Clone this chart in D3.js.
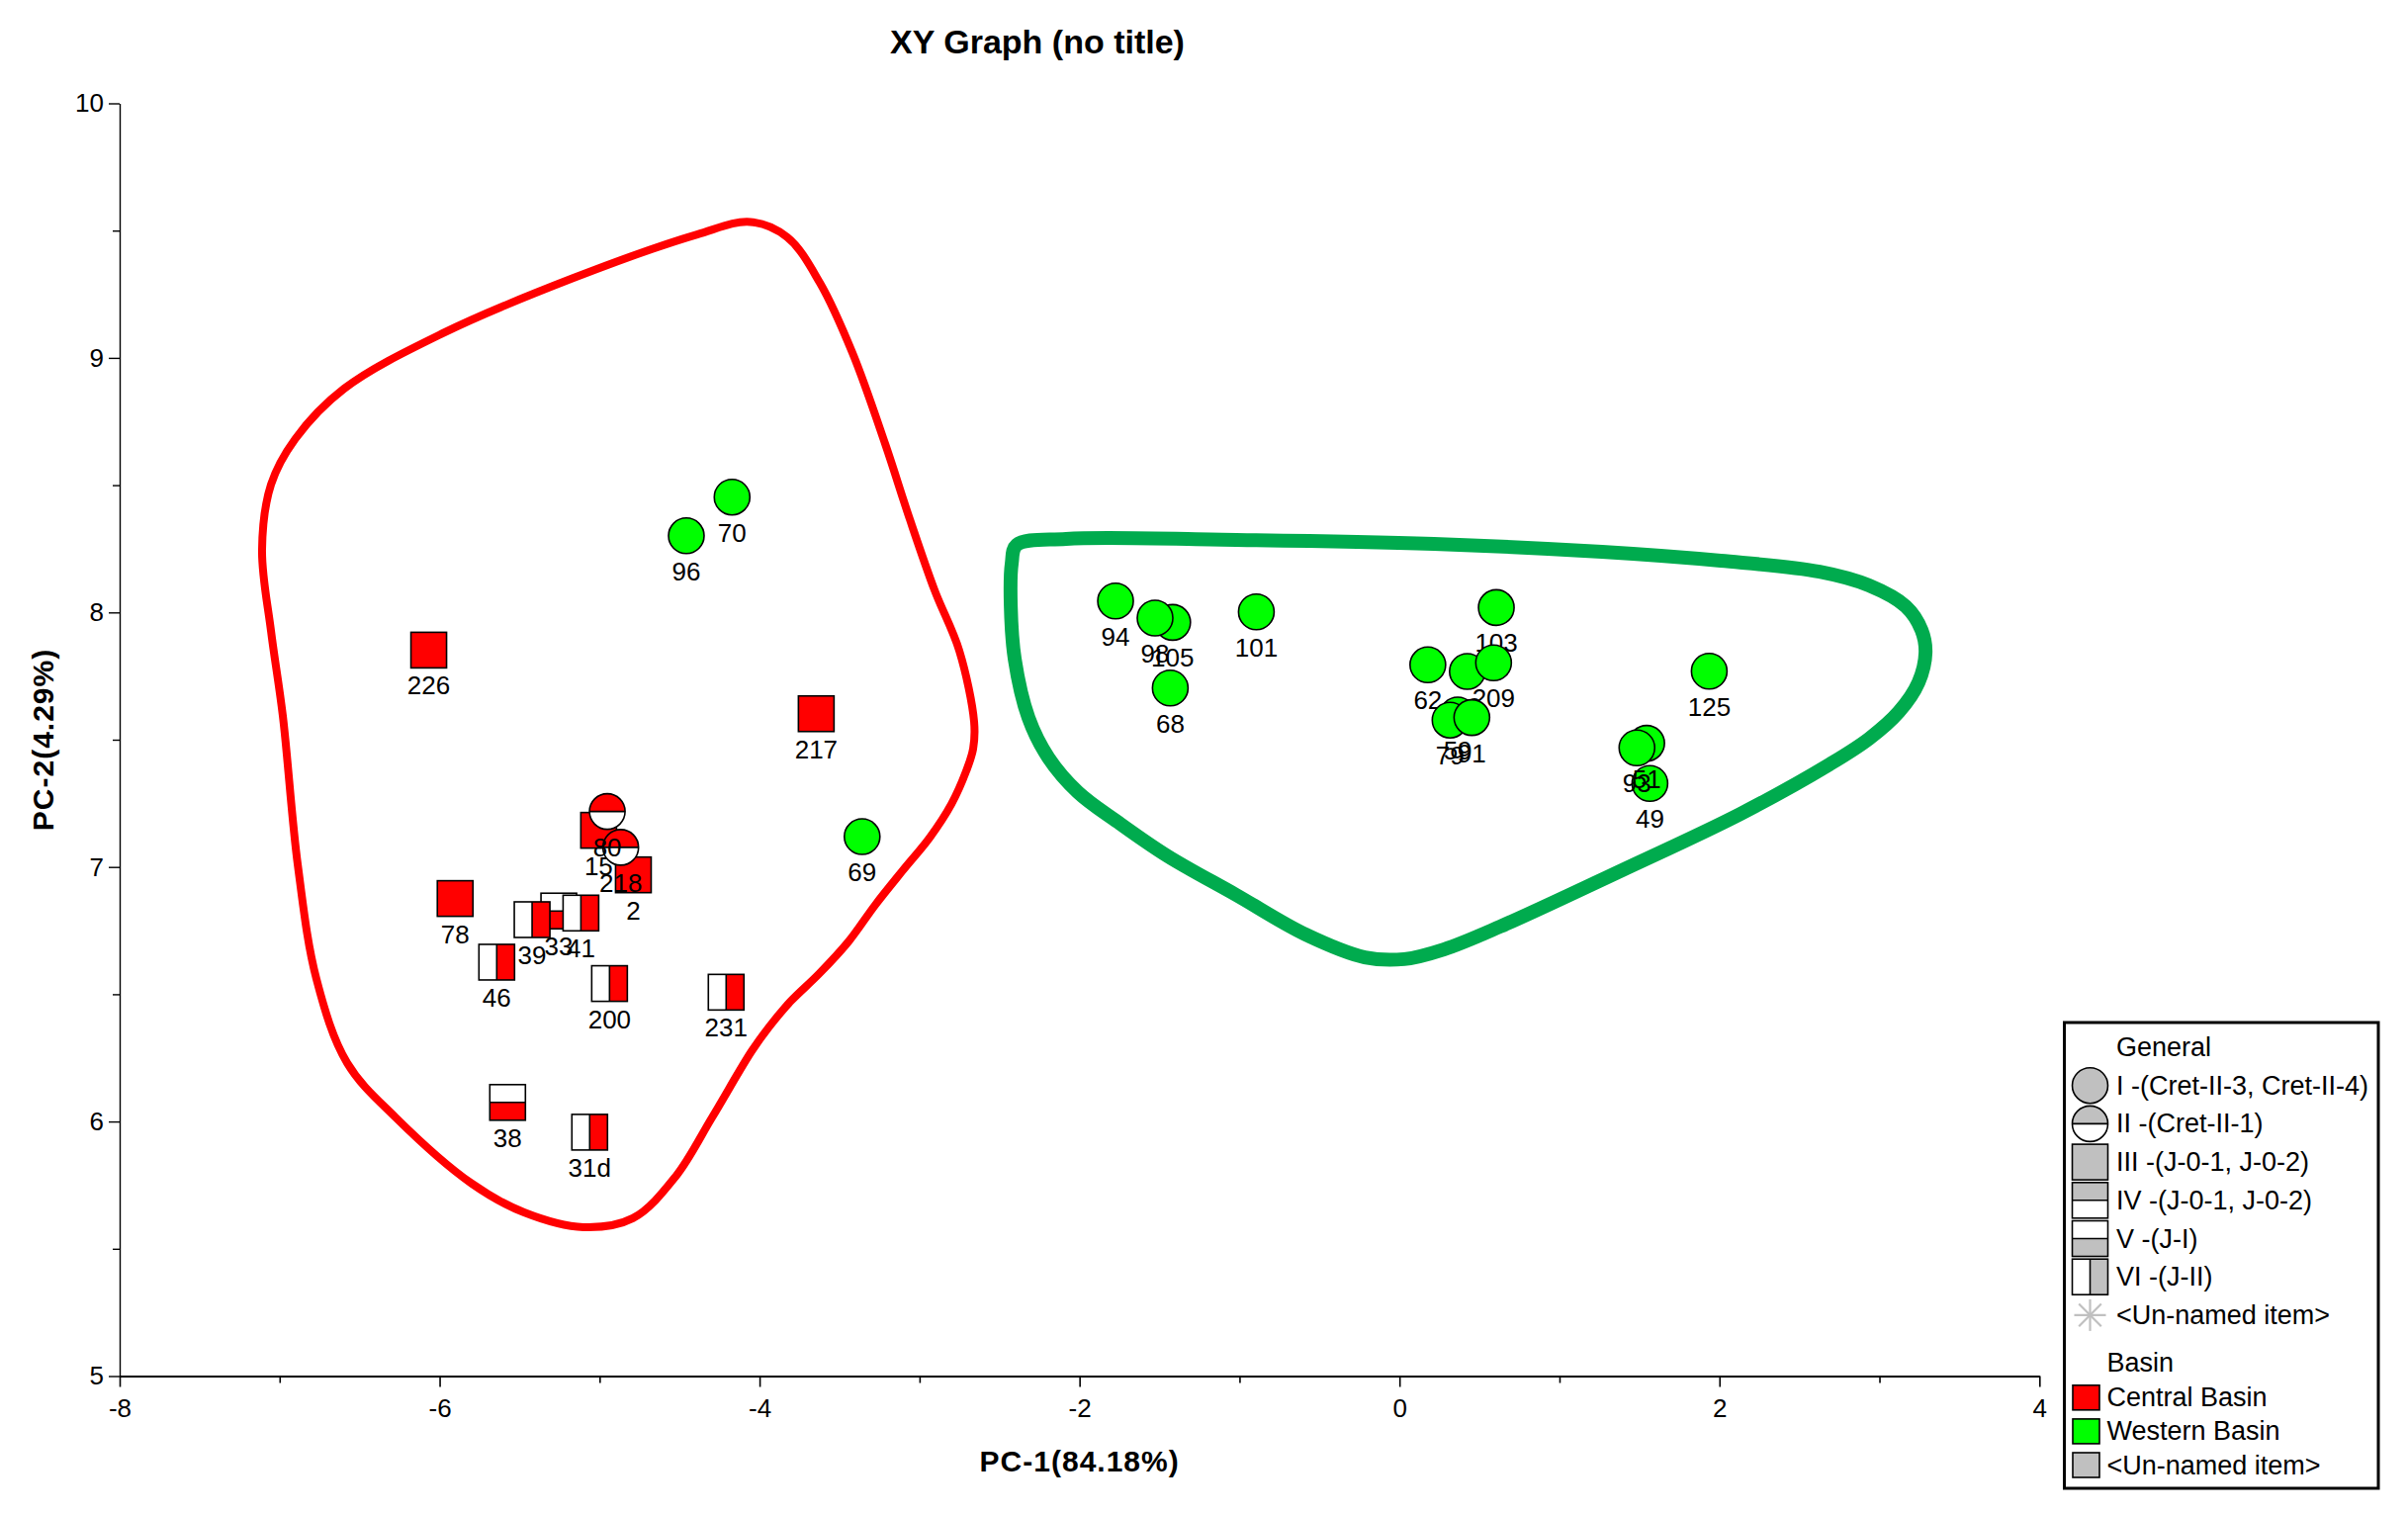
<!DOCTYPE html>
<html>
<head>
<meta charset="utf-8">
<script src="https://cdn.jsdelivr.net/npm/d3@7"></script>
<style>
  body { margin: 0; background: #fff; }
  svg { display: block; font-family: "Liberation Sans", Arial, sans-serif; }
</style>
</head>
<body>
<div id="chart"></div>
<script>
// sample points, in drawing order (later ones sit on top)
const sampleIds = ["226", "217", "78", "15", "2", "218", "80", "33", "39", "41", "46", "200", "231", "38", "31d",
  "70", "96", "69", "94", "105", "98", "68", "101", "103", "62", "30", "209", "59", "79", "91", "125", "49", "51", "93"];
const pc1 = [-6.068, -3.646, -5.903, -5.006, -4.789, -4.868, -4.952, -5.255, -5.422, -5.117, -5.643, -4.938, -4.209, -5.575, -5.062,
  -4.172, -4.458, -3.359, -1.775, -1.418, -1.528, -1.433, -0.895, 0.605, 0.177, 0.424, 0.588, 0.364, 0.316, 0.452, 1.936, 1.565, 1.545, 1.484];
const pc2 = [7.852, 7.602, 6.876, 7.144, 6.969, 7.077, 7.218, 6.827, 6.793, 6.819, 6.626, 6.542, 6.508, 6.075, 5.958,
  8.453, 8.301, 7.119, 8.045, 7.961, 7.978, 7.703, 8.002, 8.019, 7.794, 7.768, 7.802, 7.597, 7.577, 7.587, 7.769, 7.328, 7.486, 7.468];
const generalType = ["III", "III", "III", "III", "III", "II", "II", "V", "VI", "VI", "VI", "VI", "VI", "V", "VI",
  "I", "I", "I", "I", "I", "I", "I", "I", "I", "I", "I", "I", "I", "I", "I", "I", "I", "I", "I"];
const basin = ["Central Basin", "Central Basin", "Central Basin", "Central Basin", "Central Basin", "Central Basin", "Central Basin",
  "Central Basin", "Central Basin", "Central Basin", "Central Basin", "Central Basin", "Central Basin", "Central Basin", "Central Basin",
  "Western Basin", "Western Basin", "Western Basin", "Western Basin", "Western Basin", "Western Basin", "Western Basin", "Western Basin",
  "Western Basin", "Western Basin", "Western Basin", "Western Basin", "Western Basin", "Western Basin", "Western Basin", "Western Basin",
  "Western Basin", "Western Basin", "Western Basin"];

// hand drawn group outlines, in data units
const redHull = [[-4.058, 9.534], [-3.827, 9.474], [-3.623, 9.295], [-3.419, 9.019], [-3.215, 8.662], [-3.061, 8.366],
  [-2.906, 8.087], [-2.752, 7.850], [-2.659, 7.570], [-2.665, 7.465], [-2.709, 7.376], [-2.801, 7.247], [-2.937, 7.115],
  [-3.104, 6.987], [-3.277, 6.851], [-3.444, 6.707], [-3.630, 6.579], [-3.803, 6.474], [-3.939, 6.373], [-4.050, 6.276],
  [-4.297, 6.016], [-4.526, 5.783],
  [-4.792, 5.620], [-5.101, 5.585], [-5.472, 5.643], [-5.801, 5.757], [-6.275, 6.016], [-6.578, 6.230], [-6.770, 6.560],
  [-6.887, 7.010], [-6.980, 7.593], [-7.054, 7.927], [-7.110, 8.246], [-7.054, 8.502], [-6.903, 8.681], [-6.597, 8.879],
  [-5.979, 9.097], [-5.163, 9.314], [-4.390, 9.485]];
const greenHull = [[-2.393, 8.265], [-2.084, 8.289], [-1.021, 8.285], [0.215, 8.269], [1.266, 8.238], [2.008, 8.203],
  [2.626, 8.160], [2.935, 8.106], [3.164, 8.024], [3.263, 7.931], [3.288, 7.842], [3.244, 7.725], [3.121, 7.609],
  [2.935, 7.504], [2.688, 7.403], [2.132, 7.209], [1.390, 6.987], [0.630, 6.766], [0.277, 6.676], [0.030, 6.638],
  [-0.217, 6.645], [-0.588, 6.735], [-1.021, 6.890], [-1.453, 7.044], [-1.762, 7.177], [-2.010, 7.294], [-2.195, 7.430],
  [-2.319, 7.586], [-2.405, 7.816], [-2.430, 8.028], [-2.424, 8.192]];

const xTicks = [-8, -6, -4, -2, 0, 2, 4];
const xMinorTicks = [-7, -5, -3, -1, 1, 3];
const yTicks = [5, 6, 7, 8, 9, 10];
const yMinorTicks = [5.5, 6.5, 7.5, 8.5, 9.5];

const generalLabels = ["I -(Cret-II-3, Cret-II-4)", "II -(Cret-II-1)", "III -(J-0-1, J-0-2)", "IV -(J-0-1, J-0-2)",
  "V -(J-I)", "VI -(J-II)", "<Un-named item>"];
const generalKeys = ["I", "II", "III", "IV", "V", "VI", "*"];
const basinLabels = ["Central Basin", "Western Basin", "<Un-named item>"];
const basinColors = ["#ff0000", "#00ff00", "#c0c0c0"];

const width = 2435, height = 1531;

const svg = d3.select("#chart")
  .append("svg")
  .attr("width", width)
  .attr("height", height);

const x = d3.scaleLinear().domain([-8, 4]).range([121, 2062.3]);
const y = d3.scaleLinear().domain([5, 10]).range([1391.5, 104.5]);
const color = d3.scaleOrdinal().domain(basinLabels).range(basinColors);

// axes
const xAxis = svg.append("g")
  .attr("transform", `translate(0,${y(5)})`)
  .call(d3.axisBottom(x).tickValues(xTicks).tickSize(11).tickSizeOuter(0).tickPadding(12).tickFormat(d => String(d)));
xAxis.select(".domain").attr("stroke-width", 2.2);
xAxis.selectAll(".tick line").attr("stroke-width", 1.6);
xAxis.selectAll("text").attr("font-size", 26).attr("font-family", "Liberation Sans, Arial, sans-serif");

svg.append("g")
  .attr("transform", `translate(0,${y(5)})`)
  .call(d3.axisBottom(x).tickValues(xMinorTicks).tickSize(7).tickSizeOuter(0).tickFormat(""))
  .call(g => g.select(".domain").remove())
  .selectAll(".tick line").attr("stroke-width", 1.6);

const yAxis = svg.append("g")
  .attr("transform", `translate(${x(-8)},0)`)
  .call(d3.axisLeft(y).tickValues(yTicks).tickSize(11).tickSizeOuter(0).tickPadding(5).tickFormat(d => String(d)));
yAxis.select(".domain").attr("stroke-width", 1.4);
yAxis.selectAll(".tick line").attr("stroke-width", 1.4);
yAxis.selectAll("text").attr("font-size", 26).attr("font-family", "Liberation Sans, Arial, sans-serif");

svg.append("g")
  .attr("transform", `translate(${x(-8)},0)`)
  .call(d3.axisLeft(y).tickValues(yMinorTicks).tickSize(7).tickSizeOuter(0).tickFormat(""))
  .call(g => g.select(".domain").remove())
  .selectAll(".tick line").attr("stroke-width", 1.4);

// titles
svg.append("text")
  .attr("x", 1049)
  .attr("y", 54)
  .attr("text-anchor", "middle")
  .attr("font-size", 34)
  .attr("font-weight", "bold")
  .text("XY Graph (no title)");

svg.append("text")
  .attr("x", x(-2))
  .attr("y", 1488)
  .attr("text-anchor", "middle")
  .attr("font-size", 30)
  .attr("font-weight", "bold")
  .attr("letter-spacing", 1)
  .text("PC-1(84.18%)");

svg.append("text")
  .attr("transform", `translate(54,${(y(5) + y(10)) / 2}) rotate(-90)`)
  .attr("text-anchor", "middle")
  .attr("font-size", 30)
  .attr("font-weight", "bold")
  .attr("letter-spacing", 1)
  .text("PC-2(4.29%)");

// group outlines
const hullLine = d3.line()
  .x(d => x(d[0]))
  .y(d => y(d[1]))
  .curve(d3.curveCatmullRomClosed.alpha(0.5));

svg.append("path")
  .attr("d", hullLine(redHull))
  .attr("fill", "none")
  .attr("stroke", "#ff0000")
  .attr("stroke-width", 8);

svg.append("path")
  .attr("d", hullLine(greenHull))
  .attr("fill", "none")
  .attr("stroke", "#00ab4e")
  .attr("stroke-width", 14)
  .attr("stroke-linejoin", "round");

// one symbol per general type
const r = 18, h = 18;
const halfTop = d3.arc()({ innerRadius: 0, outerRadius: r, startAngle: -Math.PI / 2, endAngle: Math.PI / 2 });

function drawMarker(g, type, fill) {
  const sw = 1.6;
  if (type === "I") {
    g.append("circle").attr("r", r).attr("fill", fill).attr("stroke", "#000").attr("stroke-width", sw);
  } else if (type === "II") {
    g.append("circle").attr("r", r).attr("fill", "#fff");
    g.append("path").attr("d", halfTop).attr("fill", fill);
    g.append("line").attr("x1", -r).attr("x2", r).attr("stroke", "#000").attr("stroke-width", sw);
    g.append("circle").attr("r", r).attr("fill", "none").attr("stroke", "#000").attr("stroke-width", sw);
  } else if (type === "*") {
    [0, 45, 90, 135].forEach(a => {
      g.append("line")
        .attr("x1", -16).attr("x2", 16)
        .attr("transform", `rotate(${a})`)
        .attr("stroke", fill)
        .attr("stroke-width", 2.2);
    });
  } else {
    g.append("rect").attr("x", -h).attr("y", -h).attr("width", 2 * h).attr("height", 2 * h).attr("fill", "#fff");
    if (type === "III") {
      g.append("rect").attr("x", -h).attr("y", -h).attr("width", 2 * h).attr("height", 2 * h).attr("fill", fill);
    } else if (type === "IV") {
      g.append("rect").attr("x", -h).attr("y", -h).attr("width", 2 * h).attr("height", h).attr("fill", fill);
      g.append("line").attr("x1", -h).attr("x2", h).attr("stroke", "#000").attr("stroke-width", sw);
    } else if (type === "V") {
      g.append("rect").attr("x", -h).attr("y", 0).attr("width", 2 * h).attr("height", h).attr("fill", fill);
      g.append("line").attr("x1", -h).attr("x2", h).attr("stroke", "#000").attr("stroke-width", sw);
    } else if (type === "VI") {
      g.append("rect").attr("x", 0).attr("y", -h).attr("width", h).attr("height", 2 * h).attr("fill", fill);
      g.append("line").attr("y1", -h).attr("y2", h).attr("stroke", "#000").attr("stroke-width", sw);
    }
    g.append("rect").attr("x", -h).attr("y", -h).attr("width", 2 * h).attr("height", 2 * h)
      .attr("fill", "none").attr("stroke", "#000").attr("stroke-width", sw);
  }
}

// points with their labels underneath
sampleIds.forEach((id, i) => {
  const g = svg.append("g")
    .attr("transform", `translate(${x(pc1[i])},${y(pc2[i])})`);
  drawMarker(g, generalType[i], color(basin[i]));
  g.append("text")
    .attr("y", 45)
    .attr("text-anchor", "middle")
    .attr("font-size", 26)
    .text(id);
});

// legend
const legend = svg.append("g");
legend.append("rect")
  .attr("x", 2087.5).attr("y", 1034)
  .attr("width", 317.5).attr("height", 471)
  .attr("fill", "#fff")
  .attr("stroke", "#000")
  .attr("stroke-width", 3);

legend.append("text")
  .attr("x", 2140).attr("y", 1067.5)
  .attr("font-size", 27)
  .text("General");

const rowY = d3.scaleLinear().domain([0, 1]).range([1097.7, 1136.4]);
generalKeys.forEach((k, i) => {
  const g = legend.append("g").attr("transform", `translate(2113.5,${rowY(i)})`);
  drawMarker(g, k, "#c0c0c0");
  legend.append("text")
    .attr("x", 2140).attr("y", rowY(i) + 9)
    .attr("font-size", 27)
    .text(generalLabels[i]);
});

legend.append("text")
  .attr("x", 2130.5).attr("y", 1386.5)
  .attr("font-size", 27)
  .text("Basin");

const basinY = d3.scaleLinear().domain([0, 1]).range([1413.3, 1447.4]);
basinLabels.forEach((b, i) => {
  legend.append("rect")
    .attr("x", 2096).attr("y", basinY(i) - 12.5)
    .attr("width", 27).attr("height", 25)
    .attr("fill", color(b))
    .attr("stroke", "#000")
    .attr("stroke-width", 1.6);
  legend.append("text")
    .attr("x", 2130.5).attr("y", basinY(i) + 9)
    .attr("font-size", 27)
    .text(b);
});
</script>
</body>
</html>
